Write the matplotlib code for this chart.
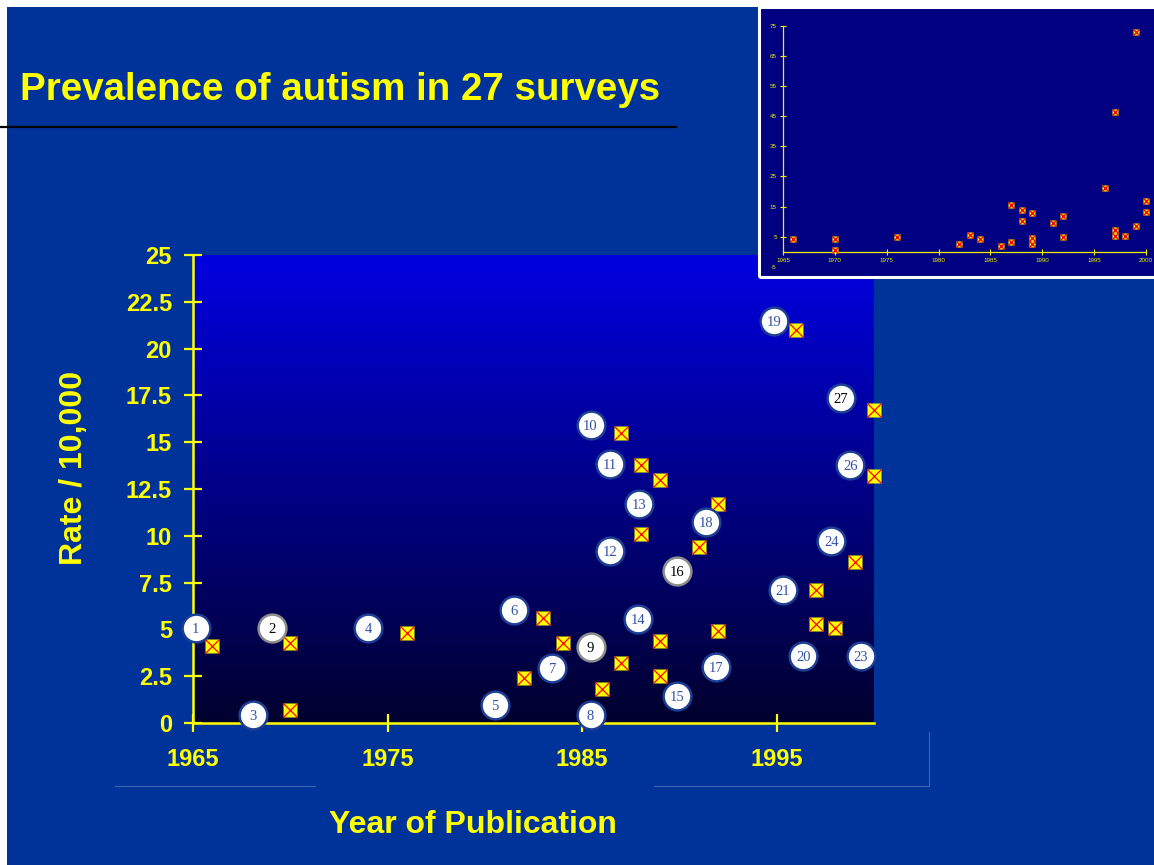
import numpy as np
import matplotlib
matplotlib.use('Agg')
import matplotlib.pyplot as plt
from matplotlib.colors import LinearSegmentedColormap
from matplotlib.patches import Rectangle
from matplotlib.lines import Line2D

# Datos de las 27 encuestas (año de publicación, tasa por 10.000)
years = [1966, 1970, 1970, 1976, 1982, 1983, 1984, 1986, 1987, 1987, 1988, 1988, 1989, 1989,
         1989, 1991, 1992, 1992, 1996, 1997, 1997, 1997, 1998, 1999, 1999, 2000, 2000]
rates = [4.1, 4.3, 0.7, 4.8, 2.4, 5.6, 4.3, 1.8, 15.5, 3.2, 13.8, 10.1, 13.0, 4.4,
         2.5, 9.4, 11.7, 4.9, 21.0, 46.5, 7.1, 5.3, 5.1, 8.6, 72.8, 16.7, 13.2]

# Etiquetas numeradas de las encuestas (posición de cada globo en datos)
badge_ids = [1, 2, 3, 4, 5, 6, 7, 8, 9, 10, 11, 12, 13, 14, 15, 16, 17, 18, 19, 20, 21, 23, 24, 26, 27]
badge_x = [1965.14, 1969.05, 1968.1, 1974.0, 1980.5, 1981.5, 1983.46, 1985.43, 1985.43, 1985.43,
           1986.42, 1986.44, 1987.94, 1987.87, 1989.9, 1989.9, 1991.9, 1991.35, 1994.87, 1996.36,
           1995.33, 1999.33, 1997.8, 1998.78, 1998.3]
badge_y = [5.06, 5.06, 0.41, 5.06, 0.98, 6.04, 2.95, 0.43, 4.06, 15.9,
           13.82, 9.19, 11.68, 5.56, 1.46, 8.14, 3.0, 10.72, 21.49, 3.56,
           7.1, 3.56, 9.74, 13.78, 17.35]
grey_badges = [2, 9, 16]
dark_text_badges = [2, 9, 16, 27]

x_ticks = [1965, 1975, 1985, 1995]
y_ticks = [0, 2.5, 5, 7.5, 10, 12.5, 15, 17.5, 20, 22.5, 25]
y_tick_labels = ['0', '2.5', '5', '7.5', '10', '12.5', '15', '17.5', '20', '22.5', '25']
inset_x_ticks = [1965, 1970, 1975, 1980, 1985, 1990, 1995, 2000]
inset_y_ticks = [-5, 5, 15, 25, 35, 45, 55, 65, 75]

YELLOW = '#ffff00'
SLIDE = '#003399'
W, H = 1154, 865


def fx(px):
    return px / W


def fy(py):
    return 1 - py / H


plt.rcParams['font.family'] = ['Liberation Sans', 'DejaVu Sans']

fig = plt.figure(figsize=(11.54, 8.65), dpi=100, facecolor='white')

# Fondo de la diapositiva
fig.add_artist(Rectangle((fx(7), 0), 1 - fx(7), fy(7), transform=fig.transFigure,
                         facecolor=SLIDE, edgecolor='none', zorder=-5))

# Título y línea
fig.text(fx(20), fy(100), 'Prevalence of autism in 27 surveys', color=YELLOW,
         fontsize=27.7, fontweight='bold', ha='left', va='baseline')
fig.add_artist(Line2D([0, fx(676)], [fy(127), fy(127)], color='black', lw=1.6,
                      transform=fig.transFigure))

# Líneas tenues de la diapositiva
for xs, ys in [([115, 315], [786, 786]), ([654, 929], [786, 786]), ([929, 929], [732, 786])]:
    fig.add_artist(Line2D([fx(v) for v in xs], [fy(v) for v in ys], color='#3f62ad',
                          lw=0.8, transform=fig.transFigure))

# ---- gráfico principal ----
ax = fig.add_axes([fx(193), fy(723), fx(874) - fx(193), fy(255) - fy(723)])
ax.patch.set_visible(False)
cmap = LinearSegmentedColormap.from_list('grad', ['#00002e', '#0000e0'])
ax.imshow(np.linspace(0, 1, 256).reshape(-1, 1), extent=[1965, 2000, 0, 25], origin='lower',
          aspect='auto', cmap=cmap, zorder=0)
ax.set_xlim(1965, 2000)
ax.set_ylim(0, 25)

yr = np.array(years)
rt = np.array(rates)
shown = rt <= 25
ax.plot(yr[shown], rt[shown], 's', ms=10, mfc=YELLOW, mec='none', zorder=3, clip_on=False)
ax.plot(yr[shown], rt[shown], 'x', ms=10, mec='#ff0000', mew=0.9, zorder=3.1, clip_on=False)

for n, bx, by in zip(badge_ids, badge_x, badge_y):
    edge = '#8c8c8c' if n in grey_badges else '#1c3f94'
    tcol = 'black' if n in dark_text_badges else '#3352a6'
    ax.plot(bx, by, 'o', ms=20, mfc='white', mec=edge, mew=1.8, zorder=4, clip_on=False)
    ax.text(bx, by, str(n), ha='center', va='center_baseline', family='Liberation Serif',
            fontsize=10.5, color=tcol, zorder=5)

for s in ['top', 'right']:
    ax.spines[s].set_visible(False)
for s in ['left', 'bottom']:
    ax.spines[s].set_color(YELLOW)
    ax.spines[s].set_linewidth(1.8)

ax.set_xticks(x_ticks, labels=[str(t) for t in x_ticks], fontweight='bold')
ax.set_yticks(y_ticks, labels=y_tick_labels, fontweight='bold')
ax.tick_params(direction='inout', length=12.5, width=1.6, color=YELLOW,
               labelcolor=YELLOW, labelsize=17)
ax.tick_params(axis='x', pad=11.5)
ax.tick_params(axis='y', pad=8.9)

fig.text(fx(74), fy(468), 'Rate / 10,000', rotation=90, color=YELLOW, fontsize=23,
         fontweight='bold', ha='center', va='center')
fig.text(fx(473), fy(833), 'Year of Publication', color=YELLOW, fontsize=23,
         fontweight='bold', ha='center', va='baseline')

# ---- recuadro con todas las encuestas ----
axi = fig.add_axes([fx(759), fy(277.5), fx(1156) - fx(759), fy(6.5) - fy(277.5)])
axi.set_facecolor('#000080')
axi.set_xlim(1962.69, 2000.96)
axi.set_ylim(-8.56, 81.37)
axi.plot(years, rates, 's', ms=5, mfc=YELLOW, mec='none', zorder=3)
axi.plot(years, rates, 'x', ms=4, mec='#ff0000', mew=1.0, zorder=3.1)

for s in ['top', 'right']:
    axi.spines[s].set_visible(False)
axi.spines['left'].set_position(('data', 1965))
axi.spines['bottom'].set_position(('data', 0))
axi.spines['left'].set_bounds(0, 75)
axi.spines['bottom'].set_bounds(1965, 2000)
for s in ['left', 'bottom']:
    axi.spines[s].set_color('#f0f000')
    axi.spines[s].set_linewidth(0.9)
axi.set_xticks(inset_x_ticks, labels=[str(t) for t in inset_x_ticks])
axi.set_yticks(inset_y_ticks, labels=[str(t) for t in inset_y_ticks])
axi.tick_params(direction='inout', length=4, width=0.8, color='#f0f000',
                labelcolor='#f0f000', labelsize=4.5, pad=2.5)
axi.yaxis.get_major_ticks()[0].tick1line.set_visible(False)
axi.add_patch(Rectangle((0, 0), 1, 1, transform=axi.transAxes, fill=False, ec='white',
                        lw=2.2, clip_on=False, zorder=10))

fig.savefig('out.png', dpi=100, facecolor=fig.get_facecolor())
